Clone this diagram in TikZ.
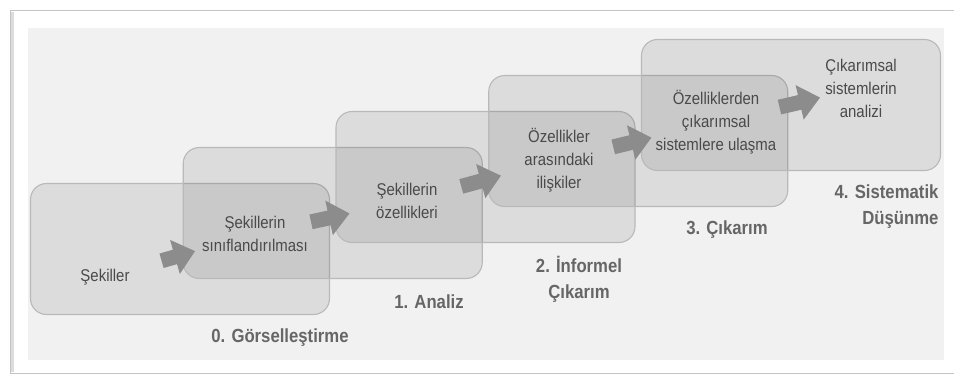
\documentclass[tikz,border=0pt]{standalone}
\usepackage{fontspec}
\setmainfont{Liberation Sans}
\newfontfamily\narrowsans[FakeStretch=0.88]{Liberation Sans}
\usetikzlibrary{arrows.meta,positioning}
\definecolor{panelgray}{HTML}{F1F1F1}
\definecolor{framegray}{HTML}{C4C4C4}
\definecolor{boxline}{HTML}{B9B9B9}
\definecolor{arrowgray}{HTML}{8C8C8C}
\definecolor{steptxt}{HTML}{4A4A4A}
\definecolor{labeltxt}{HTML}{666666}

\begin{document}
\begin{tikzpicture}[x=1pt, y=-1pt,
    stagebox/.style = {draw=boxline, line width=1.1pt, fill=black, fill opacity=0.085, rounded corners=16pt, minimum width=299pt, minimum height=131pt},
    steptext/.style = {align=center, text=steptxt, inner sep=3pt, font=\narrowsans\fontsize{17}{23}\selectfont},
    stagelabel/.style = {align=center, text=labeltxt, font=\narrowsans\bfseries\fontsize{19}{26}\selectfont},
    flow/.style = {draw=arrowgray, line width=15pt, -{Triangle[width=34pt,length=21pt]}},
    ]

        \useasboundingbox (0,0) rectangle (954,376);
        % Frame and panel
        \fill[white] (0,0) rectangle (954,376);
        \draw[framegray!60, line width=3pt] (12,372) -- (12,12);
        \draw[framegray, line width=0.8pt] (10,373) -- (10,10) -- (954,10);
        \draw[framegray, line width=0.8pt] (10,373) -- (954,373);
        \fill[panelgray] (28,28) rectangle (944,360);

        % Stages
        \foreach \i in {0,...,4}
            \node[stagebox] (b\i) at (180+152.75*\i, 249-36*\i) {};

        % Steps
        \node[steptext] (t0) at (105,277) {Şekiller};
        \node[steptext] (t1) at (255,234) {Şekillerin\\sınıflandırılması};
        \node[steptext] (t2) at (407,201) {Şekillerin\\özellikleri};
        \node[steptext] (t3) at (559,160) {Özellikler\\arasındaki\\ilişkiler};
        \node[steptext] (t4) at (716,122) {Özelliklerden\\çıkarımsal\\sistemlere ulaşma};
        \node[steptext] (t5) at (861,88) {Çıkarımsal\\sistemlerin\\analizi};

        % Stage names
        \node[stagelabel] (l0) at (280,338) {0. Görselleştirme};
        \node[stagelabel] (l1) at (429,302) {1. Analiz};
        \node[stagelabel] (l2) at (579,279) {2. İnformel\\Çıkarım};
        \node[stagelabel] (l3) at (727,230) {3. Çıkarım};
        \node[stagelabel, align=right, anchor=east] (l4) at (942,207) {4. Sistematik\\Düşünme};

        % Draw
        \draw[flow, shorten <=30pt, shorten >=4pt] (t0) -- (t1);
        \draw[flow, shorten <=0pt, shorten >=24pt] (t1) -- (t2);
        \draw[flow, shorten <=21pt, shorten >=21pt] (t2) -- (t3);
        \draw[flow, shorten <=17pt, shorten >=1pt] (t3) -- (t4);
        \draw[flow, shorten <=0pt, shorten >=2pt] (t4) -- (t5);
    \end{tikzpicture}
\end{document}
